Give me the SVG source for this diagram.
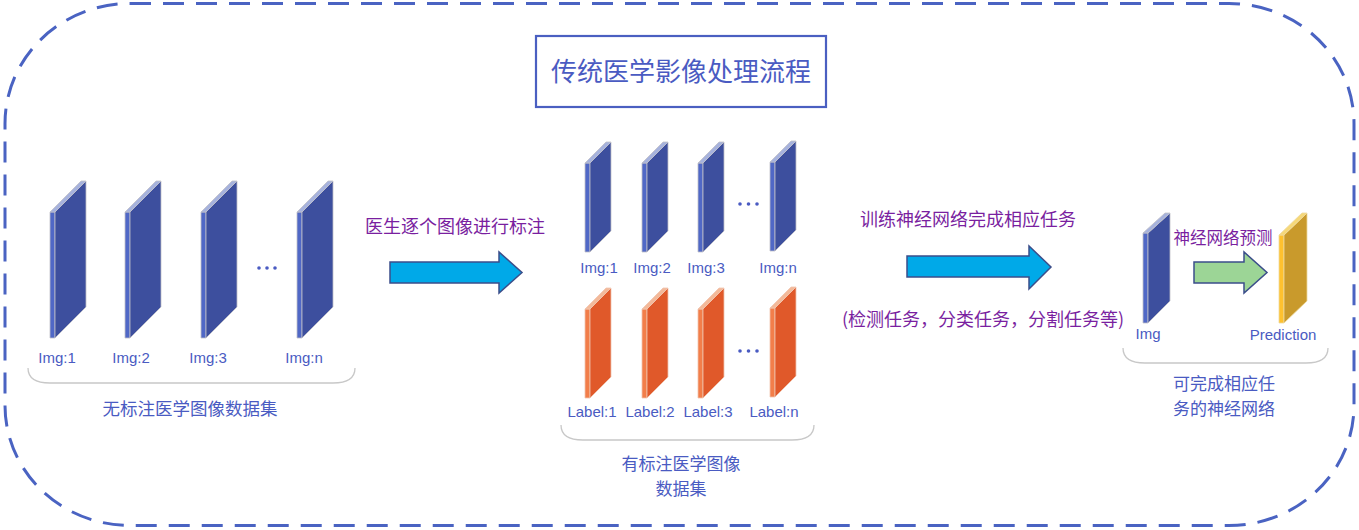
<svg xmlns="http://www.w3.org/2000/svg" width="1359" height="530" viewBox="0 0 1359 530">
<style>
.cn{font-family:"Noto Sans CJK SC",sans-serif;}
.lat{font-family:"Liberation Sans",Arial,sans-serif;font-size:15px;fill:#4a5bc2;text-anchor:middle;}
.blue-t{fill:#4a5bc2;}
.purple{fill:#7a1fa0;}
.slab path{stroke:#c0c0c8;stroke-width:0.8;stroke-linejoin:round;}
.blue .s{fill:#5068c6;} .blue .f{fill:#3d4f9e;} .blue .t{fill:#a6b2dd;}
.orange .s{fill:#f27e4a;} .orange .f{fill:#e0592a;} .orange .t{fill:#f3b999;}
.orange path{stroke:#f0c4ae;}
.gold .s{fill:#ffc12e;} .gold .f{fill:#c99a2c;} .gold .t{fill:#f6d878;}
.gold path{stroke:#eed9a0;}
.brace{fill:none;stroke:#c8c8c8;stroke-width:1.3;}
.dot{fill:#4a5bc2;}
.arrow{stroke:#3b4e8a;stroke-width:1.5;stroke-linejoin:miter;}
</style>

<!-- outer dashed frame -->
<rect x="5" y="3.5" width="1349" height="522" rx="125" ry="120" fill="none" stroke="#4a63c2" stroke-width="3" stroke-dasharray="21 12"/>

<!-- title -->
<g id="title">
<rect x="536" y="36" width="290" height="71" fill="#ffffff" stroke="#4a5fc1" stroke-width="2.2"/>
<text x="681" y="81" class="cn blue-t" font-size="26" text-anchor="middle">传统医学影像处理流程</text>
</g>

<!-- unlabeled dataset -->
<g id="unlabeled-dataset">
<g class="slab blue" transform="translate(50,181)"><path class="s" d="M0,31 h5 v126 h-5z"/><path class="f" d="M5,31 L36,0 V126 L5,157z"/><path class="t" d="M0,31 L31,0 h5 L5,31z"/></g>
<g class="slab blue" transform="translate(125,181)"><path class="s" d="M0,31 h5 v126 h-5z"/><path class="f" d="M5,31 L36,0 V126 L5,157z"/><path class="t" d="M0,31 L31,0 h5 L5,31z"/></g>
<g class="slab blue" transform="translate(201,181)"><path class="s" d="M0,31 h5 v126 h-5z"/><path class="f" d="M5,31 L36,0 V126 L5,157z"/><path class="t" d="M0,31 L31,0 h5 L5,31z"/></g>
<g class="slab blue" transform="translate(297,181)"><path class="s" d="M0,31 h5 v126 h-5z"/><path class="f" d="M5,31 L36,0 V126 L5,157z"/><path class="t" d="M0,31 L31,0 h5 L5,31z"/></g>
<circle class="dot" cx="259" cy="268" r="1.8"/><circle class="dot" cx="267" cy="268" r="1.8"/><circle class="dot" cx="275" cy="268" r="1.8"/>
<text class="lat" x="57" y="363">Img:1</text>
<text class="lat" x="131" y="363">Img:2</text>
<text class="lat" x="208" y="363">Img:3</text>
<text class="lat" x="304" y="363">Img:n</text>
<path class="brace" d="M28,368 Q28,383 50,383 L333,383 Q355,383 355,368"/>
<text x="190" y="415" class="cn blue-t" font-size="17.5" text-anchor="middle">无标注医学图像数据集</text>
</g>

<!-- labeled dataset -->
<g id="labeled-dataset">
<g class="slab blue" transform="translate(585,142)"><path class="s" d="M0,21 h5 v89 h-5z"/><path class="f" d="M5,21 L26,0 V89 L5,110z"/><path class="t" d="M0,21 L21,0 h5 L5,21z"/></g>
<g class="slab blue" transform="translate(642,142)"><path class="s" d="M0,21 h5 v89 h-5z"/><path class="f" d="M5,21 L26,0 V89 L5,110z"/><path class="t" d="M0,21 L21,0 h5 L5,21z"/></g>
<g class="slab blue" transform="translate(698,142)"><path class="s" d="M0,21 h5 v89 h-5z"/><path class="f" d="M5,21 L26,0 V89 L5,110z"/><path class="t" d="M0,21 L21,0 h5 L5,21z"/></g>
<g class="slab blue" transform="translate(770,141)"><path class="s" d="M0,21 h5 v89 h-5z"/><path class="f" d="M5,21 L26,0 V89 L5,110z"/><path class="t" d="M0,21 L21,0 h5 L5,21z"/></g>
<circle class="dot" cx="740" cy="204" r="1.8"/><circle class="dot" cx="748.5" cy="204" r="1.8"/><circle class="dot" cx="757" cy="204" r="1.8"/>
<text class="lat" x="599" y="273">Img:1</text>
<text class="lat" x="652" y="273">Img:2</text>
<text class="lat" x="706" y="273">Img:3</text>
<text class="lat" x="778" y="273">Img:n</text>
<g class="slab orange" transform="translate(585,288)"><path class="s" d="M0,21 h5 v89 h-5z"/><path class="f" d="M5,21 L26,0 V89 L5,110z"/><path class="t" d="M0,21 L21,0 h5 L5,21z"/></g>
<g class="slab orange" transform="translate(642,288)"><path class="s" d="M0,21 h5 v89 h-5z"/><path class="f" d="M5,21 L26,0 V89 L5,110z"/><path class="t" d="M0,21 L21,0 h5 L5,21z"/></g>
<g class="slab orange" transform="translate(698,288)"><path class="s" d="M0,21 h5 v89 h-5z"/><path class="f" d="M5,21 L26,0 V89 L5,110z"/><path class="t" d="M0,21 L21,0 h5 L5,21z"/></g>
<g class="slab orange" transform="translate(770,287)"><path class="s" d="M0,21 h5 v89 h-5z"/><path class="f" d="M5,21 L26,0 V89 L5,110z"/><path class="t" d="M0,21 L21,0 h5 L5,21z"/></g>
<circle class="dot" cx="740" cy="351" r="1.8"/><circle class="dot" cx="748.5" cy="351" r="1.8"/><circle class="dot" cx="757" cy="351" r="1.8"/>
<text class="lat" x="592" y="417">Label:1</text>
<text class="lat" x="650" y="417">Label:2</text>
<text class="lat" x="708" y="417">Label:3</text>
<text class="lat" x="774" y="417">Label:n</text>
<path class="brace" d="M561,425 Q561,440 583,440 L792,440 Q814,440 814,425"/>
<text x="681" y="470" class="cn blue-t" font-size="17" text-anchor="middle">有标注医学图像</text>
<text x="681" y="495" class="cn blue-t" font-size="17" text-anchor="middle">数据集</text>
</g>

<!-- trained network -->
<g id="trained-network">
<g class="slab blue" transform="translate(1143,213)"><path class="s" d="M0,20 h5 v90 h-5z"/><path class="f" d="M5,20 L27,0 V88 L5,110z"/><path class="t" d="M0,20 L22,0 h5 L5,20z"/></g>
<text class="lat" x="1148" y="339">Img</text>
<g class="slab gold" transform="translate(1279,213)"><path class="s" d="M0,22 h5 v88 h-5z"/><path class="f" d="M5,22 L28,0 V88 L5,110z"/><path class="t" d="M0,22 L23,0 h5 L5,22z"/></g>
<text class="lat" x="1283" y="340">Prediction</text>
<path class="brace" d="M1123,348 Q1123,363 1145,363 L1306,363 Q1328,363 1328,348"/>
<text x="1224" y="390" class="cn blue-t" font-size="17" text-anchor="middle">可完成相应任</text>
<text x="1224" y="415" class="cn blue-t" font-size="17" text-anchor="middle">务的神经网络</text>
</g>

<!-- connectors -->
<g id="connectors">
<g id="arrow-annotate">
<path class="arrow" fill="#00a9e8" d="M390,262 H499 V252 L522,272.5 L499,293 V283 H390 Z"/>
<text x="455" y="233" class="cn purple" font-size="18" text-anchor="middle">医生逐个图像进行标注</text>
</g>
<g id="arrow-train">
<path class="arrow" fill="#00a9e8" d="M907,256 H1029 V246 L1051,267 L1029,289 V277 H907 Z"/>
<text x="968" y="226" class="cn purple" font-size="18" text-anchor="middle">训练神经网络完成相应任务</text>
<text x="983" y="326" class="cn purple" font-size="18" text-anchor="middle">(检测任务，分类任务，分割任务等)</text>
</g>
<g id="arrow-predict">
<path class="arrow" fill="#9cd596" stroke="#2f4a7c" d="M1194,262 H1244 V252 L1267,272.5 L1244,293 V283 H1194 Z"/>
<text x="1223" y="244" class="cn purple" font-size="16.5" text-anchor="middle">神经网络预测</text>
</g>
</g>
</svg>
